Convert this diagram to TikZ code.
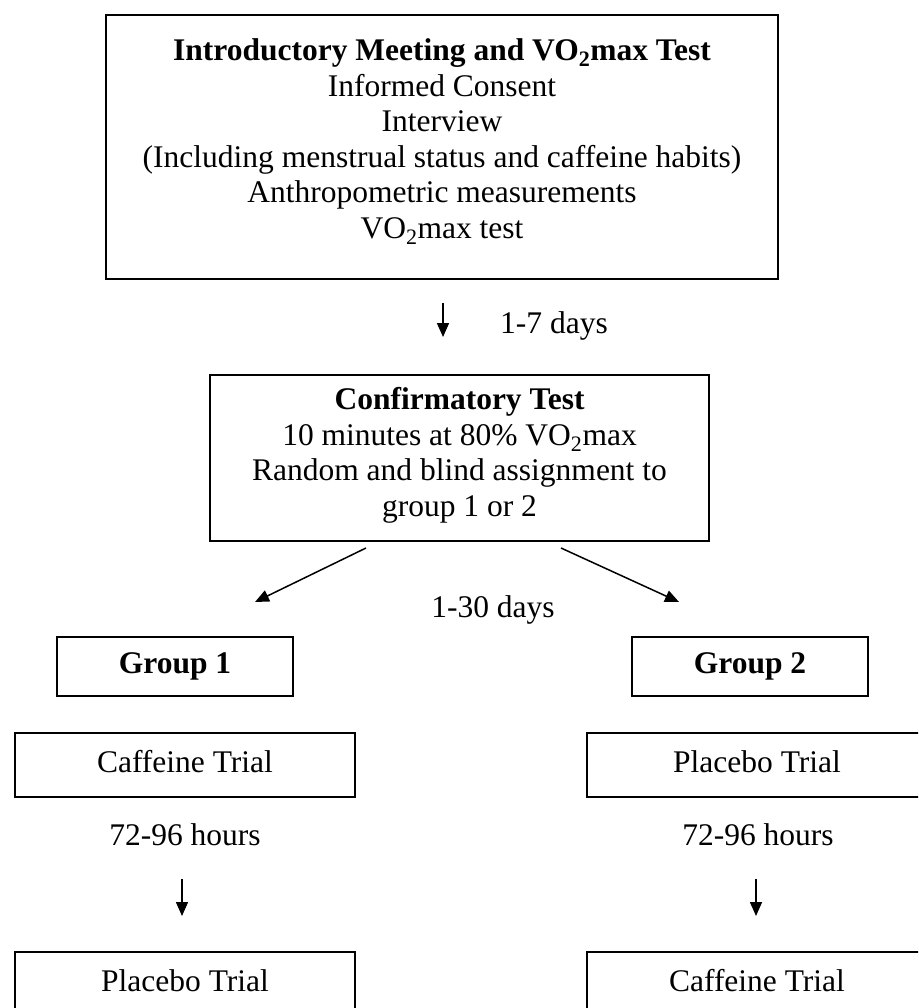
\documentclass[tikz,border=0pt]{standalone}
\usepackage{fontspec}
\setmainfont{Liberation Serif}
\usetikzlibrary{arrows.meta,calc}
\begin{document}
\begin{tikzpicture}[x=1pt,y=-1pt,
  box/.style={draw, line width=2pt, inner sep=0pt, align=center, font=\fontsize{31.5}{35.6}\selectfont},
  lbl/.style={inner sep=0pt, font=\fontsize{31.5}{35.6}\selectfont},
  arr/.style={line width=1.5pt, -{Triangle[length=14pt,width=12pt]}},
  one/.style={text height=21pt, text depth=7pt}
]
\useasboundingbox (0,0) rectangle (918,1008);
\clip (0,0) rectangle (918,1008);
\fill[white] (0,0) rectangle (918,1008);
\node[box, minimum width=672pt, minimum height=264pt, text depth=17pt] (intro) at (442,147)
  {\textbf{Introductory Meeting and VO\textsubscript{2}max Test}\\ Informed Consent\\ Interview\\ (Including menstrual status and caffeine habits)\\ Anthropometric measurements\\ VO\textsubscript{2}max test};
\node[box, minimum width=499pt, minimum height=166pt, text depth=12pt] (conf) at (459.5,458)
  {\textbf{Confirmatory Test}\\ 10 minutes at 80\% VO\textsubscript{2}max\\ Random and blind assignment to\\ group 1 or 2};
\node[box, one, minimum width=236pt, minimum height=59pt] (g1) at (175,666.5) {\textbf{Group 1}};
\node[box, one, minimum width=236pt, minimum height=59pt] (g2) at (750,666.5) {\textbf{Group 2}};
\node[box, one, minimum width=340pt, minimum height=64pt] (t1) at (185,765) {Caffeine Trial};
\node[box, one, minimum width=340pt, minimum height=64pt] (t2) at (757,765) {Placebo Trial};
\node[box, one, minimum width=340pt, minimum height=64pt] (b1) at (185,984) {Placebo Trial};
\node[box, one, minimum width=340pt, minimum height=64pt] (b2) at (757,984) {Caffeine Trial};
\node[lbl, anchor=base west] (l1) at (500,333) {1-7 days};
\node[lbl, anchor=base] (l2) at (493,617) {1-30 days};
\node[lbl, anchor=base] (l3) at (185,845) {72-96 hours};
\node[lbl, anchor=base] (l4) at (758,845) {72-96 hours};
\draw[arr, shorten <=23pt, shorten >=37pt] ([xshift=1pt]intro.south) -- ([xshift=1pt]intro.south |- conf.north);
\draw[arr] ($(conf.south west)+(157,6)$) -- ($(g1.north)+(80,-34)$);
\draw[arr] ($(conf.south west)+(352,6)$) -- ($(g2.north)+(-71,-34)$);
\draw[arr, shorten <=81pt, shorten >=35pt] ([xshift=-3pt]t1.south) -- ([xshift=-3pt]b1.north);
\draw[arr, shorten <=81pt, shorten >=35pt] ([xshift=-1pt]t2.south) -- ([xshift=-1pt]b2.north);
\end{tikzpicture}
\end{document}
